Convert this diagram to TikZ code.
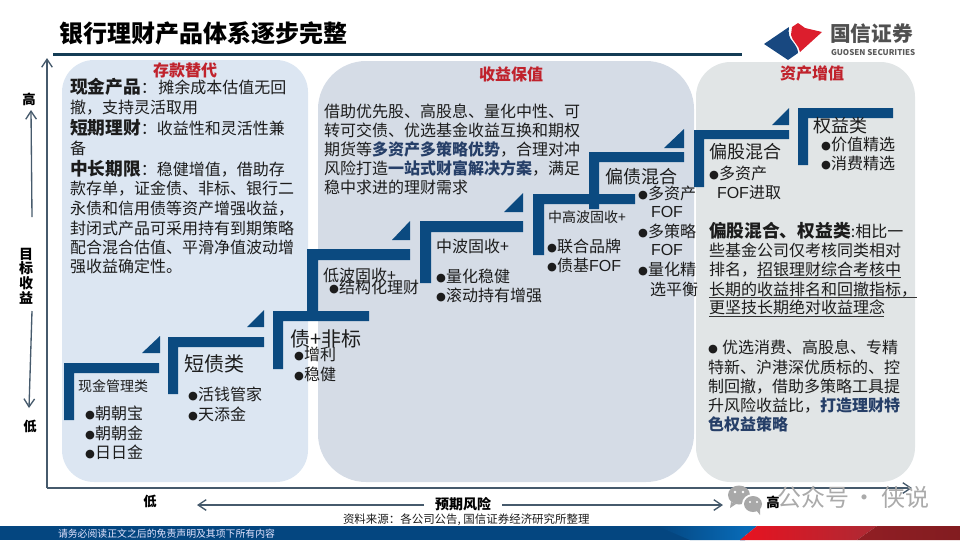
\documentclass[tikz,border=0pt]{standalone}
\usepackage{fontspec}
\setmainfont{Noto Sans CJK SC}
\newfontfamily\dejavu{DejaVu Sans}
\newfontfamily\arial{Liberation Sans}
\usetikzlibrary{arrows.meta,shapes.geometric}
\definecolor{stepblue}{HTML}{0B4A80}
\definecolor{axisgrey}{HTML}{465A6C}
\definecolor{txt}{HTML}{1C1C1C}
\definecolor{strong}{HTML}{263F68}
\definecolor{redhead}{HTML}{C0222C}
\newcommand\bu{\raisebox{1pt}{\dejavu\fontsize{8.5pt}{8.5pt}\selectfont ●}\kern0.2pt}
\newcommand\hl[1]{{\bfseries\color{strong}#1}}
\newcommand\fof{{\arial FOF}}
\tikzset{
 every node/.style={inner sep=0pt,outer sep=0pt,text=txt},
 tx/.style={anchor=mid west,font=\fontsize{12pt}{12pt}\selectfont,yshift=-1.6pt},
 txs/.style={anchor=mid west,font=\fontsize{10.5pt}{10.5pt}\selectfont,yshift=-1.3pt},
 txm/.style={anchor=mid west,font=\fontsize{13.5pt}{13.5pt}\selectfont,yshift=-1.7pt},
 txl/.style={anchor=mid west,font=\fontsize{15pt}{15pt}\selectfont,yshift=-1.8pt},
 head/.style={font=\bfseries\fontsize{12pt}{12pt}\selectfont,text=redhead},
 axlabel/.style={font=\bfseries\fontsize{10pt}{10pt}\selectfont,text=black},
 panel/.style={rounded corners=#1,draw=none},
 stepfill/.style={fill=stepblue,draw=none},
 axisline/.style={draw=axisgrey,line width=1pt,-{Straight Barb[length=6pt,width=8pt]}},
 uline/.style={draw=black!80,line width=.7pt},
}
\begin{document}
\begin{tikzpicture}[x=.75pt,y=-.75pt]
\useasboundingbox (0,0) rectangle (960,540);
% panels
\fill[panel=24pt,fill={rgb,255:red,220;green,230;blue,242}] (62,60) rectangle (308,482);
\fill[panel=36pt,fill={rgb,255:red,213;green,220;blue,230}] (318,61) rectangle (694,482);
\fill[panel=26pt,fill={rgb,255:red,225;green,229;blue,230}] (696,62) rectangle (915,482);
% title
\node[anchor=mid west,font=\bfseries\fontsize{18pt}{18pt}\selectfont,text=black,yshift=-1.5pt] (title) at (59,37) {银行理财产品体系逐步完整};
\fill[fill={rgb,255:red,20;green,60;blue,85}] (53,52.5) rectangle (742,55.5);
% logo
\fill[fill={rgb,255:red,24;green,72;blue,128}] (764,44) -- (789,27) .. controls (788,33) and (789,38) .. (793,42) .. controls (796,46) and (798,49) .. (798,53) -- (788,60) -- cycle;
\fill[fill={rgb,255:red,220;green,30;blue,45}] (792,27) -- (798,23) -- (805,28) -- (822,32) -- (800,52) .. controls (799,45) and (792,41) .. (791,35) -- cycle;
\node[anchor=mid west,font=\bfseries\fontsize{15.5pt}{15.5pt}\selectfont,text={rgb,255:red,80;green,80;blue,80},yshift=-1.5pt] (lg1) at (830,36) {国信证券};
\node[anchor=mid west,font=\bfseries\fontsize{6pt}{6pt}\selectfont,text={rgb,255:red,90;green,90;blue,90}] (lg2) at (831,52) {GUOSEN SECURITIES};
% axes
\coordinate (origin) at (47,488);
\coordinate (ytop) at (47,58);
\coordinate (xend) at (912,488);
\draw[axisline] (origin) -- (ytop);
\draw[axisline] (origin) -- (xend);
% side arrows
\node[axlabel] (hiY) at (29,99) {高};
\node[axlabel] (loY) at (30,426) {低};
\node[axlabel,align=center,font=\bfseries\fontsize{10.5pt}{11pt}\selectfont] (ylab) at (26,276) {目\\标\\收\\益};
\coordinate (upS) at (32,217);
\coordinate (upE) at (31,110);
\coordinate (dnS) at (32,311);
\coordinate (dnE) at (29,408);
\draw[axisline] (upS) -- (upE);
\draw[axisline] (dnS) -- (dnE);
% bottom
\node[axlabel] (loX) at (150,501) {低};
\node[axlabel] (hiX) at (773,502) {高};
\node[axlabel,font=\bfseries\fontsize{10.5pt}{10.5pt}\selectfont] (risk) at (463,504) {预期风险};
\draw[axisline] (risk.west) ++(-11,1) coordinate (l1) (l1) -- (197,505);
\draw[axisline] (risk.east) ++(11,1) coordinate (r1) (r1) -- (723,505);
% watermark
\fill[fill={rgb,255:red,168;green,168;blue,168}] (739,495) ellipse (11 and 9.5);
\fill[fill={rgb,255:red,168;green,168;blue,168}] (731,502) -- (730,508) -- (736,504) -- cycle;
\fill[fill=white] (753,504) ellipse (11 and 10);
\fill[fill={rgb,255:red,168;green,168;blue,168}] (753,504) ellipse (9 and 8);
\fill[fill={rgb,255:red,168;green,168;blue,168}] (756,510) -- (760,515) -- (760,507) -- cycle;
\fill[white] (735,492) circle (1.4) (743,492) circle (1.4) (750,502) circle (1.2) (757,502) circle (1.2);
\node[anchor=mid west,font=\fontsize{18pt}{18pt}\selectfont,text={rgb,255:red,170;green,170;blue,170},yshift=-1.5pt] (wm) at (777,501) {公众号\,·\,侠说};
% source
\node[anchor=mid west,font=\fontsize{8.6pt}{8.6pt}\selectfont,yshift=-.7pt] (src) at (343,519) {资料来源：各公司公告, 国信证券经济研究所整理};
% footer
\fill[fill={rgb,255:red,4;green,70;blue,128}] (0,526) rectangle (700,540);
\shade[left color={rgb,255:red,4;green,70;blue,128},right color={rgb,255:red,8;green,106;blue,182}] (657,526) -- (700,526) -- (745,526) -- (745,540) -- (690,540) -- cycle;
\fill[fill={rgb,255:red,8;green,106;blue,182}] (745,526) -- (757,526) -- (740,540) -- (745,540) -- cycle;
\shade[left color={rgb,255:red,232;green,18;blue,32},right color={rgb,255:red,172;green,42;blue,52}] (740,540) -- (757,526) -- (877,526) -- (857,540) -- cycle;
\shade[left color={rgb,255:red,145;green,30;blue,36},right color={rgb,255:red,130;green,28;blue,32}] (857,540) -- (877,526) -- (960,526) -- (960,540) -- cycle;
\node[anchor=mid west,font=\fontsize{7.4pt}{7.4pt}\selectfont,text=white!90!blue,yshift=-.6pt] (foot) at (58,533.5) {请务必阅读正文之后的免责声明及其项下所有内容};
% steps: horizontal + vertical bars + triangle
\fill[stepfill] (64,363) -| (159,373) -| (74,420) -| cycle;
\fill[stepfill] (142,353) -- (160,353) -- (160,336) -- cycle;
\fill[stepfill] (168,337) -| (264,347) -| (178,394) -| cycle;
\fill[stepfill] (247,327) -- (264,327) -- (264,310) -- cycle;
\fill[stepfill] (273,311) -| (369,321) -| (283,369) -| cycle;
\fill[stepfill] (307,249) -| (410,260) -| (318,311) -| cycle;
\fill[stepfill] (392,240) -- (410,240) -- (410,221) -- cycle;
\fill[stepfill] (420,221) -| (523,232) -| (431,283) -| cycle;
\fill[stepfill] (504,212) -- (523,212) -- (523,193) -- cycle;
\fill[stepfill] (533,194) -| (635,204) -| (544,255) -| cycle;
\fill[stepfill] (589,152) -| (684,162) -| (599,209) -| cycle;
\fill[stepfill] (664,148) -- (684,148) -- (684,129) -- cycle;
\fill[stepfill] (694,130) -| (789,139) -| (704,187) -| cycle;
\fill[stepfill] (772,125) -- (789,125) -- (789,108) -- cycle;
\fill[stepfill] (798,108) -| (893,118) -| (808,165) -| cycle;
% heads
\node[head] (h1) at (185,70) {存款替代};
\node[head] (h2) at (511,74) {收益保值};
\node[head] (h3) at (812,73) {资产增值};
% left text
\node[tx] (a1) at (70,88) {{\bfseries\fontsize{13.3pt}{13.3pt}\selectfont 现金产品}：\kern1pt 摊余成本估值无回};
\node[tx] (a2) at (70,108) {撤，支持灵活取用};
\node[tx] (a3) at (70,129) {{\bfseries\fontsize{13.3pt}{13.3pt}\selectfont 短期理财}：\kern0pt 收益性和灵活性兼};
\node[tx] (a4) at (70,149) {备};
\node[tx] (a5) at (70,170) {{\bfseries\fontsize{13.3pt}{13.3pt}\selectfont 中长期限}：\kern0pt 稳健增值，借助存};
\node[tx] (a6) at (70,189) {款存单，证金债、非标、银行二};
\node[tx] (a7) at (70,209) {永债和信用债等资产增强收益，};
\node[tx] (a8) at (70,229) {封闭式产品可采用持有到期策略};
\node[tx] (a9) at (70,248) {配合混合估值、平滑净值波动增};
\node[tx] (a10) at (70,267) {强收益确定性。};
% middle text
\node[tx] (b1) at (324,112) {借助优先股、高股息、量化中性、可};
\node[tx] (b2) at (324,131) {转可交债、优选基金收益互换和期权};
\node[tx] (b3) at (324,150) {期货等\hl{多资产多策略优势}，合理对冲};
\node[tx] (b4) at (324,169) {风险打造\hl{一站式财富解决方案}，满足};
\node[tx] (b5) at (324,188) {稳中求进的理财需求};
% step labels
\node[txs] (s1) at (78,386) {现金管理类};
\node[tx] (s1a) at (85,414) {\bu 朝朝宝};
\node[tx] (s1b) at (85,434) {\bu 朝朝金};
\node[tx] (s1c) at (85,453) {\bu 日日金};
\node[txl] (s2) at (184,365) {短债类};
\node[tx] (s2a) at (188,395) {\bu 活钱管家};
\node[tx] (s2b) at (188,415) {\bu 天添金};
\node[txl] (s3) at (290,340) {债+非标};
\node[tx] (s3a) at (294,355) {\bu 增利};
\node[tx] (s3b) at (294,375) {\bu 稳健};
\node[tx] (s4) at (323,276) {低波固收+};
\node[tx] (s4a) at (329,288) {\bu 结构化理财};
\node[tx] (s5) at (436,247) {中波固收+};
\node[tx] (s5a) at (436,277) {\bu 量化稳健};
\node[tx] (s5b) at (436,296) {\bu 滚动持有增强};
\node[txs] (s6) at (548,217) {中高波固收+};
\node[tx] (s6a) at (547,247) {\bu 联合品牌};
\node[tx] (s6b) at (547,266) {\bu 债基\fof};
\node[txm] (s7) at (605,178) {偏债混合};
\node[tx] (s7a) at (638,194) {\bu 多资产};
\node[tx] (s7b) at (651,212) {\fof};
\node[tx] (s7c) at (638,232) {\bu 多策略};
\node[tx] (s7d) at (651,250) {\fof};
\node[tx] (s7e) at (638,270) {\bu 量化精};
\node[tx] (s7f) at (650,290) {选平衡};
\node[txm] (s8) at (709,153) {偏股混合};
\node[tx] (s8a) at (709,174) {\bu 多资产};
\node[tx] (s8b) at (717,193) {\fof 进取};
\node[txm] (s9) at (813,127) {权益类};
\node[tx] (s9a) at (821,145) {\bu 价值精选};
\node[tx] (s9b) at (821,164) {\bu 消费精选};
% right text
\node[tx] (c1) at (709,232) {{\bfseries\fontsize{13.3pt}{13.3pt}\selectfont 偏股混合、权益类}:相比一};
\node[tx] (c2) at (709,251) {些基金公司仅考核同类相对};
\node[tx] (c3) at (709,270) {排名，招银理财综合考核中};
\node[tx] (c4) at (709,290) {长期的收益排名和回撤指标，};
\node[tx] (c5) at (709,308) {更坚技长期绝对收益理念};
\draw[uline] (757,277.5) -- (901,277.5) (709,297) -- (917,297) (709,316) -- (884,316);
\node[tx] (d1) at (708,348) {\bu\kern3pt 优选消费、高股息、专精};
\node[tx] (d2) at (708,368) {特新、沪港深优质标的、控};
\node[tx] (d3) at (708,387) {制回撤，借助多策略工具提};
\node[tx] (d4) at (708,406) {升风险收益比，\hl{打造理财特}};
\node[tx] (d5) at (708,425) {\hl{色权益策略}};
\end{tikzpicture}
\end{document}
